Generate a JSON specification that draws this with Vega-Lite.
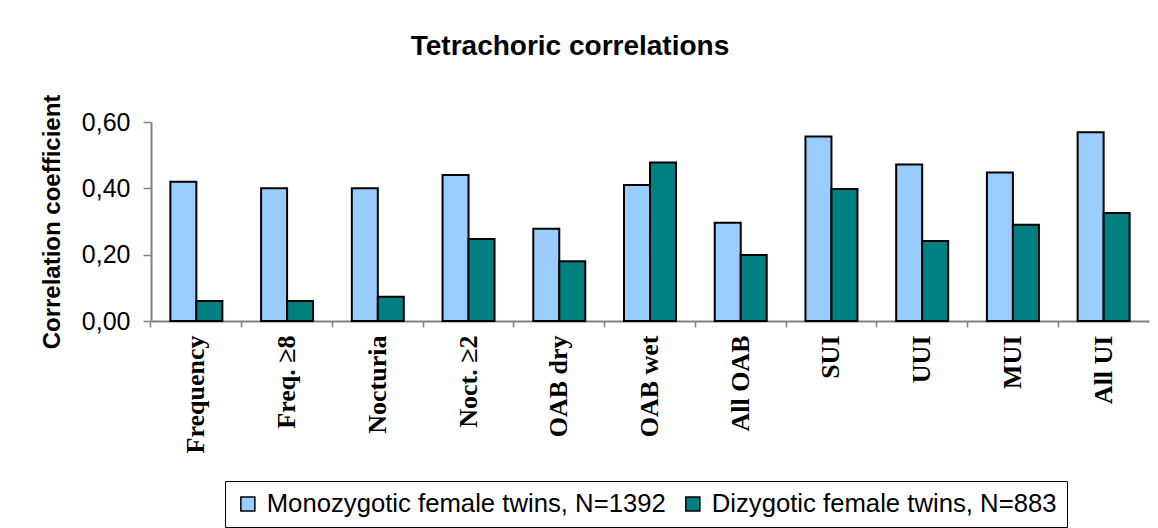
{
  "$schema": "https://vega.github.io/schema/vega-lite/v6.json",
  "autosize": {"type": "none"},
  "padding": {"left": 151, "top": 122, "right": 9, "bottom": 207},
  "width": 998,
  "height": 199,
  "background": "white",
  "title": {
    "text": "Tetrachoric correlations",
    "font": "Liberation Sans",
    "fontSize": 28,
    "fontWeight": "bold",
    "color": "black",
    "anchor": "middle",
    "dx": -80,
    "offset": 33
  },
  "data": {
    "values": [
      {"measure": "Frequency", "group": "Monozygotic female twins, N=1392", "r": 0.42},
      {"measure": "Frequency", "group": "Dizygotic female twins, N=883", "r": 0.06},
      {"measure": "Freq. ≥8", "group": "Monozygotic female twins, N=1392", "r": 0.40},
      {"measure": "Freq. ≥8", "group": "Dizygotic female twins, N=883", "r": 0.06},
      {"measure": "Nocturia", "group": "Monozygotic female twins, N=1392", "r": 0.40},
      {"measure": "Nocturia", "group": "Dizygotic female twins, N=883", "r": 0.073},
      {"measure": "Noct. ≥2", "group": "Monozygotic female twins, N=1392", "r": 0.44},
      {"measure": "Noct. ≥2", "group": "Dizygotic female twins, N=883", "r": 0.247},
      {"measure": "OAB dry", "group": "Monozygotic female twins, N=1392", "r": 0.278},
      {"measure": "OAB dry", "group": "Dizygotic female twins, N=883", "r": 0.18},
      {"measure": "OAB wet", "group": "Monozygotic female twins, N=1392", "r": 0.41},
      {"measure": "OAB wet", "group": "Dizygotic female twins, N=883", "r": 0.478},
      {"measure": "All OAB", "group": "Monozygotic female twins, N=1392", "r": 0.296},
      {"measure": "All OAB", "group": "Dizygotic female twins, N=883", "r": 0.199},
      {"measure": "SUI", "group": "Monozygotic female twins, N=1392", "r": 0.556},
      {"measure": "SUI", "group": "Dizygotic female twins, N=883", "r": 0.398},
      {"measure": "UUI", "group": "Monozygotic female twins, N=1392", "r": 0.472},
      {"measure": "UUI", "group": "Dizygotic female twins, N=883", "r": 0.241},
      {"measure": "MUI", "group": "Monozygotic female twins, N=1392", "r": 0.448},
      {"measure": "MUI", "group": "Dizygotic female twins, N=883", "r": 0.29},
      {"measure": "All UI", "group": "Monozygotic female twins, N=1392", "r": 0.569},
      {"measure": "All UI", "group": "Dizygotic female twins, N=883", "r": 0.326}
    ]
  },
  "mark": {"type": "bar", "stroke": "black", "strokeWidth": 2},
  "encoding": {
    "x": {
      "field": "measure",
      "type": "nominal",
      "sort": ["Frequency", "Freq. ≥8", "Nocturia", "Noct. ≥2", "OAB dry", "OAB wet", "All OAB", "SUI", "UUI", "MUI", "All UI"],
      "scale": {"paddingInner": 0.427, "paddingOuter": 0.2135},
      "axis": {
        "title": null,
        "bandPosition": -0.373,
        "labelAngle": -90,
        "labelFont": "Liberation Serif",
        "labelFontWeight": "bold",
        "labelFontSize": 26,
        "labelColor": "black",
        "labelPadding": 8,
        "tickSize": 6,
        "tickColor": "#808080",
        "tickWidth": 1.5,
        "domainColor": "#808080",
        "domainWidth": 2,
        "labelLimit": 300
      }
    },
    "xOffset": {
      "field": "group",
      "type": "nominal",
      "sort": ["Monozygotic female twins, N=1392", "Dizygotic female twins, N=883"],
      "scale": {"paddingInner": 0, "paddingOuter": 0}
    },
    "y": {
      "field": "r",
      "type": "quantitative",
      "scale": {"domain": [0, 0.6], "nice": false},
      "axis": {
        "title": "Correlation coefficient",
        "titleFont": "Liberation Sans",
        "titleFontSize": 24,
        "titleFontWeight": "bold",
        "titleColor": "black",
        "titlePadding": 17,
        "values": [0, 0.2, 0.4, 0.6],
        "labelExpr": "replace(format(datum.value, '.2f'), '.', ',')",
        "labelFont": "Liberation Sans",
        "labelFontSize": 25,
        "labelColor": "black",
        "labelPadding": 13,
        "tickSize": 8,
        "tickColor": "#808080",
        "tickWidth": 1.5,
        "domainColor": "#808080",
        "domainWidth": 2,
        "grid": false
      }
    },
    "color": {
      "field": "group",
      "type": "nominal",
      "sort": ["Monozygotic female twins, N=1392", "Dizygotic female twins, N=883"],
      "scale": {
        "domain": ["Monozygotic female twins, N=1392", "Dizygotic female twins, N=883"],
        "range": ["#99CCFF", "#008080"]
      },
      "legend": {
        "title": null,
        "orient": "none",
        "legendX": 74,
        "legendY": 359,
        "direction": "horizontal",
        "symbolType": "square",
        "symbolSize": 196,
        "symbolStrokeColor": "black",
        "symbolStrokeWidth": 1.5,
        "labelFont": "Liberation Sans",
        "labelFontSize": 25.7,
        "labelColor": "black",
        "labelOffset": 6,
        "labelLimit": 600,
        "columnPadding": 14,
        "padding": 10,
        "strokeColor": "black",
        "fillColor": "white"
      }
    }
  },
  "config": {
    "view": {"stroke": null}
  }
}
